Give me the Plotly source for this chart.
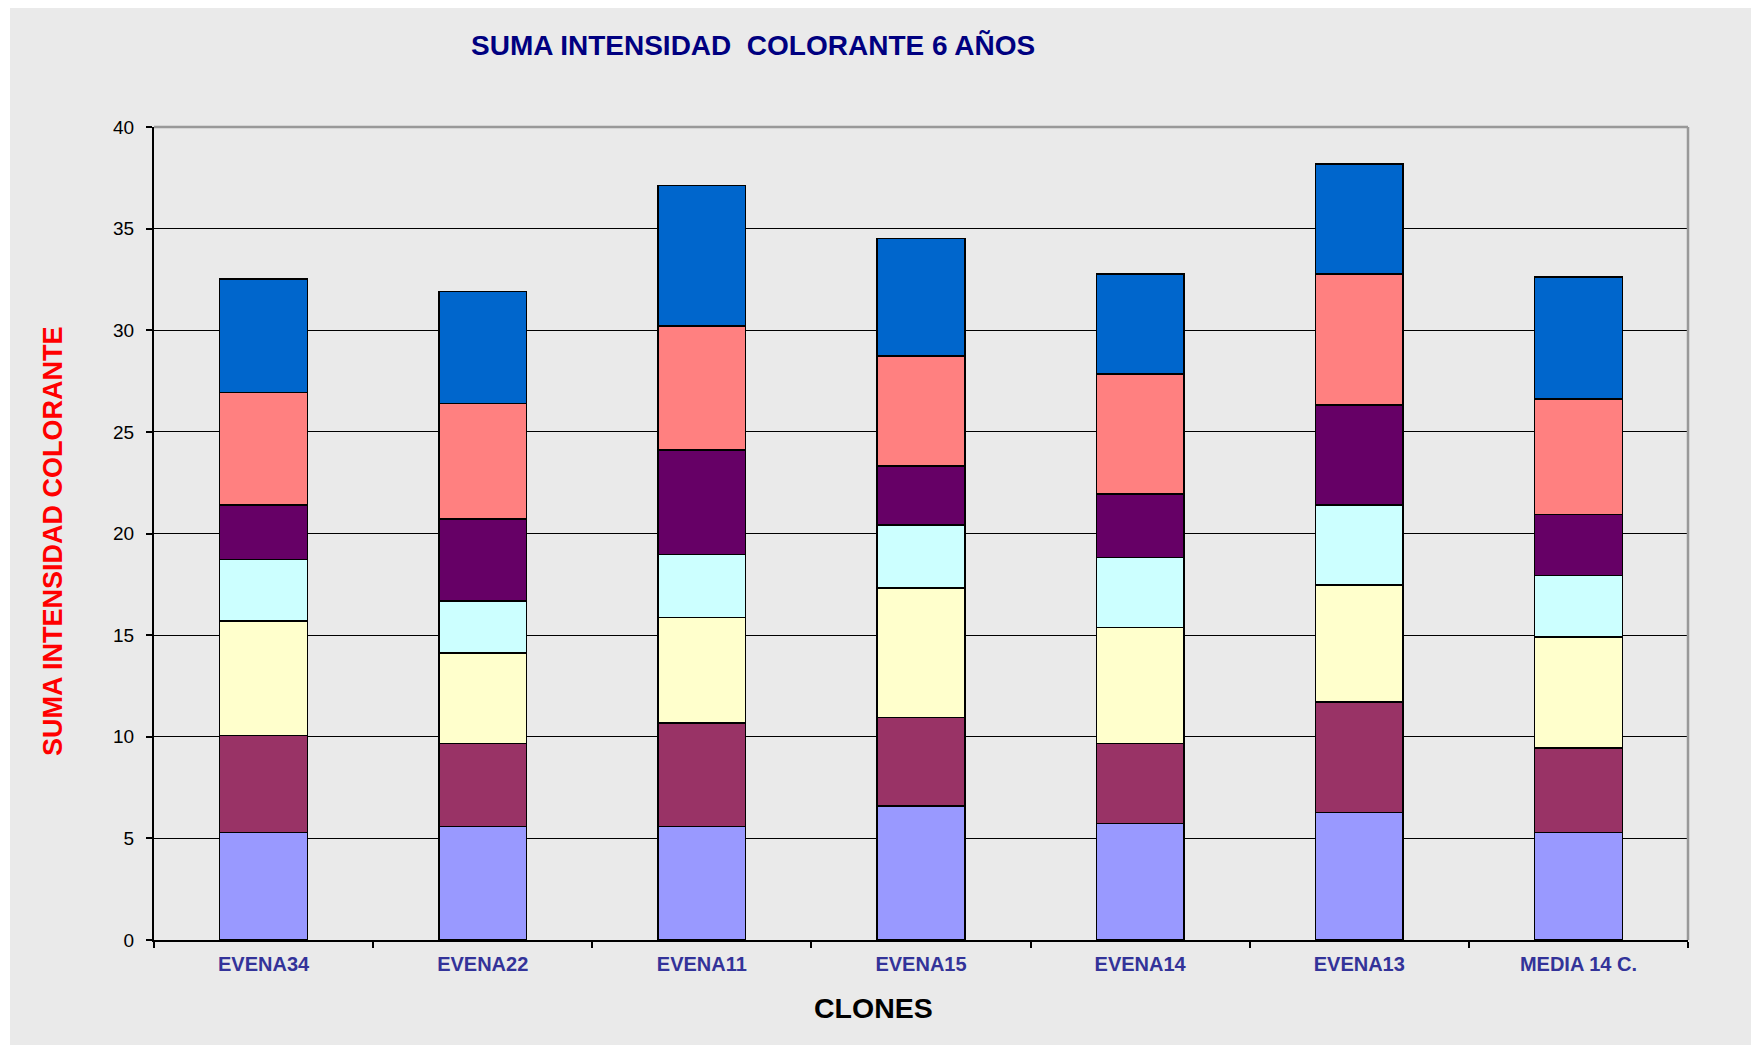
import plotly.graph_objects as go

clones = ["EVENA34", "EVENA22", "EVENA11", "EVENA15", "EVENA14", "EVENA13", "MEDIA 14 C."]

serie_1 = [5.28, 5.58, 5.58, 6.60, 5.73, 6.28, 5.28]
serie_2 = [4.77, 4.10, 5.10, 4.34, 3.95, 5.42, 4.17]
serie_3 = [5.65, 4.43, 5.19, 6.37, 5.69, 5.76, 5.45]
serie_4 = [3.01, 2.58, 3.09, 3.12, 3.44, 3.94, 3.04]
serie_5 = [2.69, 4.02, 5.15, 2.89, 3.14, 4.93, 3.00]
serie_6 = [5.53, 5.69, 6.09, 5.41, 5.90, 6.44, 5.69]
serie_7 = [5.58, 5.50, 6.93, 5.79, 4.92, 5.40, 5.98]

series = [serie_1, serie_2, serie_3, serie_4, serie_5, serie_6, serie_7]
names = ["Serie 1", "Serie 2", "Serie 3", "Serie 4", "Serie 5", "Serie 6", "Serie 7"]
colors = ["#9999FF", "#993366", "#FFFFCC", "#CCFFFF", "#660066", "#FF8080", "#0066CC"]

y_ticks = [0, 5, 10, 15, 20, 25, 30, 35, 40]

# page is offset by the 8px body margin
OFF = 8
W, H = 1759 - OFF, 1045 - OFF
ML, MT = 154 - OFF, 127 - OFF
MR = W - (1688 - OFF)
MB = H - (940 - OFF)
PW, PH = W - ML - MR, H - MT - MB


def px_x(p):
    return (p - OFF - ML) / PW


def px_y(p):
    return (H - MB - (p - OFF)) / PH


fig = go.Figure()
for vals, name, col in zip(series, names, colors):
    fig.add_trace(go.Bar(
        x=clones, y=vals, name=name,
        marker=dict(color=col, line=dict(color="black", width=1.5)),
    ))

font = "Liberation Sans, Arial, sans-serif"

fig.update_layout(
    width=W, height=H,
    barmode="stack", bargap=0.6,
    showlegend=False,
    paper_bgcolor="white",
    plot_bgcolor="#EAEAEA",
    margin=dict(l=ML, r=MR, t=MT, b=MB, autoexpand=False),
    font=dict(family=font),
    xaxis=dict(
        type="category", tickson="boundaries",
        ticks="outside", ticklen=6, tickwidth=1.5, tickcolor="black",
        showline=True, linecolor="black", linewidth=2,
        showgrid=False,
        tickfont=dict(family=font, size=20, color="#333399", weight="bold"),
        ticklabelstandoff=5,
    ),
    yaxis=dict(
        range=[0, 40], tickvals=y_ticks,
        ticks="outside", ticklen=6, tickwidth=1.5, tickcolor="black",
        showline=True, linecolor="black", linewidth=2,
        showgrid=True, gridcolor="black", gridwidth=1,
        zeroline=False,
        tickfont=dict(family=font, size=19, color="black"),
        ticklabelstandoff=8,
    ),
    shapes=[
        dict(type="rect", xref="paper", yref="paper", layer="below",
             x0=px_x(10), x1=px_x(1751), y0=px_y(1045), y1=px_y(OFF),
             fillcolor="#EAEAEA", line=dict(width=0)),
        dict(type="line", xref="paper", yref="paper", layer="above",
             x0=0, x1=1, y0=1, y1=1, line=dict(color="#999999", width=2.5)),
        dict(type="line", xref="paper", yref="paper", layer="above",
             x0=1, x1=1, y0=0, y1=1, line=dict(color="#999999", width=2.5)),
    ],
    annotations=[
        dict(text="<b>SUMA INTENSIDAD  COLORANTE 6 AÑOS</b>", xref="paper", yref="paper",
             x=px_x(753), y=px_y(45), xanchor="center", yanchor="middle",
             showarrow=False, font=dict(family=font, size=28, color="#000080")),
        dict(text="<b>SUMA INTENSIDAD COLORANTE</b>", xref="paper", yref="paper",
             x=px_x(53), y=px_y(541), xanchor="center", yanchor="middle", textangle=-90,
             showarrow=False, font=dict(family=font, size=27, color="#FF0000")),
        dict(text="<b>CLONES</b>", xref="paper", yref="paper",
             x=px_x(873), y=px_y(1008), xanchor="center", yanchor="middle",
             showarrow=False, font=dict(family=font, size=28.5, color="black")),
    ],
)

fig.write_html("out.html")
